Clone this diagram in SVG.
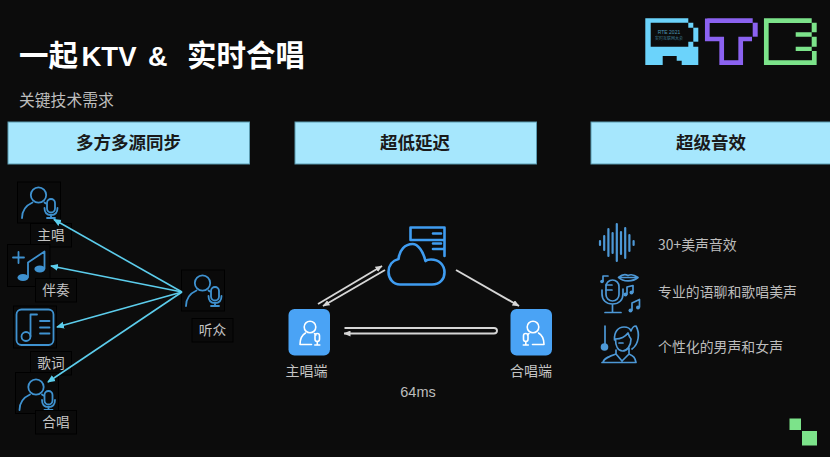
<svg xmlns="http://www.w3.org/2000/svg" width="830" height="457" viewBox="0 0 830 457">
<style>
text{font-family:"Noto Sans CJK SC","Liberation Sans",sans-serif}
.lbl{fill:#c4c4c4;font-size:13.700px;text-anchor:middle}
.fx{fill:#bdbdbd;font-size:13.900px}
.hd{fill:#1a1a1a;font-size:17.500px;font-weight:700;text-anchor:middle}
.box{fill:#0a0a0a;stroke:#000;stroke-width:1}
.bar{fill:#a6e7fd;stroke:#5b9bb0;stroke-width:1}
.ic{fill:none;stroke:#3f92d0;stroke-width:1.800;stroke-linecap:round;stroke-linejoin:round}
.fxi{fill:none;stroke:#4d98d6;stroke-width:1.700;stroke-linecap:round;stroke-linejoin:round}
.wav{fill:none;stroke:#4d98d6;stroke-width:2.200;stroke-linecap:round}
.wh{fill:none;stroke:#fff;stroke-width:1.600;stroke-linecap:round;stroke-linejoin:round}
.cy{fill:none;stroke:#5ccdec;stroke-width:1.600;marker-end:url(#ac)}
.gr{fill:none;stroke:#d6d6d6;stroke-width:1.900;marker-end:url(#ag)}
.pk{fill:#4aa3f5}
.cl{fill:none;stroke:#3f9cf0;stroke-width:2.600;stroke-linecap:round;stroke-linejoin:round}
</style>
<defs>
<marker id="ac" viewBox="0 0 8 8" refX="7" refY="4" markerWidth="8" markerHeight="8" markerUnits="userSpaceOnUse" orient="auto"><path d="M0 0.500L8 4L0 7.500z" fill="#5ccdec"/></marker>
<marker id="ag" viewBox="0 0 7 6" refX="6.500" refY="3" markerWidth="7" markerHeight="6" markerUnits="userSpaceOnUse" orient="auto"><path d="M0 0L7 3L0 6z" fill="#d6d6d6"/></marker>
<g id="person" class="ic">
<circle cx="21.500" cy="13" r="7.700"/>
<path d="M5 36C5 28 10 23 15.500 20.500M27.500 20.500C28 21 28.500 21.300 29 21.600"/>
<rect x="30" y="17" width="8" height="13.500" rx="4"/>
<path d="M27.500 26C27.500 31 30 33 34 33C38 33 40.500 31 40.500 26M34 33V36M30 36H38"/>
</g>
</defs>
<rect width="830" height="457" fill="#0c0c0c"/>

<g id="title">
<text y="66" fill="#fff" font-size="29.500" font-weight="700"><tspan x="19">一起</tspan><tspan x="81.500" y="66" font-size="27.500" style="font-family:'Liberation Sans',sans-serif">KTV</tspan><tspan x="148" y="66" font-size="27" style="font-family:'Liberation Sans',sans-serif">&amp;</tspan><tspan x="187" y="66">实时合唱</tspan></text>
<text x="19" y="106" fill="#bdbdbd" font-size="15.800">关键技术需求</text>
</g>

<g id="logo-rte">
<path fill="#6bd3fb" fill-rule="evenodd" d="M645.300 18.300H688.300V22.700H693.300V27.700H688.300V22.700H650.700V46.700H688.300V41.700H693.300V46.700H698.300V65H681.700V60.700H676.700V56H662.700V65H645.300Z"/>
<rect x="693.300" y="27.700" width="5" height="14" fill="#6bd3fb"/>
<text x="669" y="34" fill="#4d96b3" font-size="5" text-anchor="middle" style="font-family:'Liberation Sans',sans-serif">RTE 2021</text>
<text x="669" y="40" fill="#3f7d96" font-size="4" text-anchor="middle">实时互联网大会</text>
<path fill="none" stroke="#8b62f0" stroke-width="4.700" d="M707.300 20.700H752.700M752 39H740.700V62.700H721.700V39H707.300V18.500"/>
<rect x="752.700" y="22.700" width="5" height="14" fill="#8b62f0"/>
<path fill="none" stroke="#7ce38a" stroke-width="4.700" d="M811.700 20.700H766.300V62.700H814.300V51"/>
<path fill="#7ce38a" d="M811.700 22.700H816.700V32.300H811.700ZM795.700 32.300H811.700V36.700H795.700ZM811.700 36.700H816.700V46.700H811.700ZM795.700 46.700H811.700V51H795.700Z"/>
</g>

<g id="header-1"><rect class="bar" x="8" y="122" width="241.500" height="42"/><text class="hd" x="128.500" y="149">多方多源同步</text></g>
<g id="header-2"><rect class="bar" x="295" y="122" width="241.500" height="42"/><text class="hd" x="415" y="149">超低延迟</text></g>
<g id="header-3"><rect class="bar" x="591" y="122" width="245" height="42"/><text class="hd" x="711" y="149">超级音效</text></g>

<g id="node-lead">
<rect class="box" x="17.500" y="182" width="43" height="41"/>
<use href="#person" x="17" y="182"/>
<rect class="box" x="30.500" y="223.500" width="41" height="23.500"/>
<text class="lbl" x="51" y="240">主唱</text>
</g>
<g id="node-accomp">
<rect class="box" x="7.500" y="244.500" width="42.500" height="42"/>
<path class="ic" d="M13 257.500H24M18.500 252V263M28 277V262.500L44.500 251.500V268.500"/>
<ellipse cx="23" cy="277.500" rx="5.500" ry="3.600" fill="#3f92d0"/>
<ellipse cx="39.800" cy="269" rx="5.400" ry="3.400" fill="#3f92d0"/>
<rect class="box" x="35.500" y="278.500" width="41" height="23.500"/>
<text class="lbl" x="56" y="295">伴奏</text>
</g>
<g id="node-lyrics">
<rect class="box" x="13.500" y="306" width="43" height="42"/>
<rect class="ic" x="16.500" y="309.500" width="37" height="35.500" rx="5"/>
<circle class="ic" cx="26" cy="336.500" r="4.500"/>
<path class="ic" d="M30.500 336V314.500H37M40 321H49.500M40 327.500H49.500M40 333.500H49.500"/>
<rect class="box" x="30.500" y="351.500" width="41" height="23.500"/>
<text class="lbl" x="51" y="368">歌词</text>
</g>
<g id="node-chorus">
<rect class="box" x="15.500" y="372.500" width="43" height="41"/>
<use href="#person" x="14.500" y="374"/>
<rect class="box" x="35.500" y="410.500" width="41" height="23.500"/>
<text class="lbl" x="56" y="427">合唱</text>
</g>
<g id="node-listener">
<rect class="box" x="181.500" y="270" width="43" height="41"/>
<use href="#person" x="181" y="270"/>
<rect class="box" x="192" y="318.500" width="41" height="23.500"/>
<text class="lbl" x="212.500" y="335">听众</text>
</g>

<g id="node-cloud">
<path class="cl" d="M433 249H443M410.500 240V227.500H444.500V256M433 233.500H441M410.500 240H444.500M433 243.500H441"/>
<path class="cl" d="M400 284.500H432C440 284.500 444.500 279 444.500 272.500C444.500 265 439 259.500 431 259.500C428.500 259.500 426.500 260 425.500 261C423 251 418 244 412.500 244C405 244 399.500 250 398.500 259C392.500 260.500 388.500 265.500 388.500 272C388.500 279 393.500 284.500 400 284.500Z" fill="#0c0c0c"/>
</g>
<g id="node-lead-client">
<rect class="pk" x="288.500" y="309" width="41.500" height="46.500" rx="6"/>
<circle class="wh" cx="310" cy="327" r="5.800"/>
<path class="wh" d="M300 344.500C300 338 302 335 305.500 333M314.500 333.500C315 334 315.500 334.500 316 335M300 344.500H311.500"/>
<rect class="wh" x="315" y="333.500" width="4.500" height="8" rx="2.200"/>
<path class="wh" d="M317.300 341.500V345M314.800 345H319.800"/>
<text class="lbl" x="306.500" y="376" style="font-size:14px">主唱端</text>
</g>
<g id="node-chorus-client">
<rect class="pk" x="510.500" y="309" width="41.500" height="46.500" rx="6"/>
<circle class="wh" cx="533" cy="327" r="5.800"/>
<path class="wh" d="M544 344.500C544 338 542 335 538.500 333M529 333.500C528.500 334 528 334.500 527.500 335M544 344.500H532.500"/>
<rect class="wh" x="523.500" y="333.500" width="4.500" height="8" rx="2.200"/>
<path class="wh" d="M525.800 341.500V345M523.300 345H528.300"/>
<text class="lbl" x="531" y="376" style="font-size:14px">合唱端</text>
</g>
<text id="latency" x="418" y="397" fill="#bdbdbd" font-size="14.500" text-anchor="middle" style="font-family:'Liberation Sans',sans-serif">64ms</text>

<g id="effect-1">
<path class="wav" d="M600 241V245M604.200 236V250M608.400 229V256M612.600 233V253M616.800 224V261M621 232V254M625.200 228V258M629.400 235V251M633.600 241V245"/>
<text class="fx" x="658" y="250">30+美声音效</text>
</g>
<g id="effect-2">
<rect class="fxi" x="606" y="280" width="13" height="21" rx="6.500"/>
<path class="fxi" d="M606 285H612M606 290H612M602 290V294C602 300 606 304 612.500 304C619 304 623 300 623 294V289M612.500 304V312M605 312.500H621M603 276H608M603 276V281"/>
<circle cx="602" cy="281.500" r="1.800" fill="#4d98d6"/>
<path class="fxi" d="M618.500 277.500C622 274.500 625 274 628 275.500C631 274 634 274.500 638 277.500C633 282 623 282 618.500 277.500ZM620 277.500H636"/>
<path class="fxi" d="M627 294V287L633 285.500V292M632 310V303L639.500 299.500V307"/>
<circle cx="625.500" cy="294.500" r="2" fill="#4d98d6"/><circle cx="631.500" cy="292.500" r="2" fill="#4d98d6"/>
<circle cx="630.500" cy="310.500" r="2" fill="#4d98d6"/><circle cx="638" cy="307.500" r="2" fill="#4d98d6"/>
<text class="fx" x="658" y="297">专业的语聊和歌唱美声</text>
</g>
<g id="effect-3">
<path class="fxi" d="M605 326V345"/>
<circle cx="604.500" cy="347" r="3.800" fill="#4d98d6"/>
<path class="fxi" d="M614.500 340C614 332 618 327 624 327C627 327 630 328 631 331C632 328 634 326 636 326C640 333 639 344 632 349M615.500 339C620 339 625 337 628 333C629 336 630 338 631 339C631 346 627 351 622.500 351C618 351 615.500 346 615.500 339ZM602 362.500H636M603 362.500C604 358 610 356 616 354L622 361L629 354C634 356 635 358 636 362.500M616 354V350M629 354V348M619 343H623"/>
<text class="fx" x="658" y="352">个性化的男声和女声</text>
</g>

<g id="connectors">
<path class="cy" d="M182 292L54 219.500"/>
<path class="cy" d="M182 292L51 266"/>
<path class="cy" d="M182 292L57 327"/>
<path class="cy" d="M182 292L48 382"/>
<path class="gr" d="M318 304L382 266"/>
<path class="gr" d="M385 270L323 306"/>
<path class="gr" d="M456 270L519 306"/>
<path class="gr" d="M344.500 328H494C498 328 498 333.500 494 333.500H344"/>
</g>

<g id="corner-mark">
<rect x="789.500" y="418.500" width="11.500" height="11.500" fill="#7ce38a"/>
<rect x="802" y="431" width="15" height="14.500" fill="#7ce38a"/>
</g>
</svg>
